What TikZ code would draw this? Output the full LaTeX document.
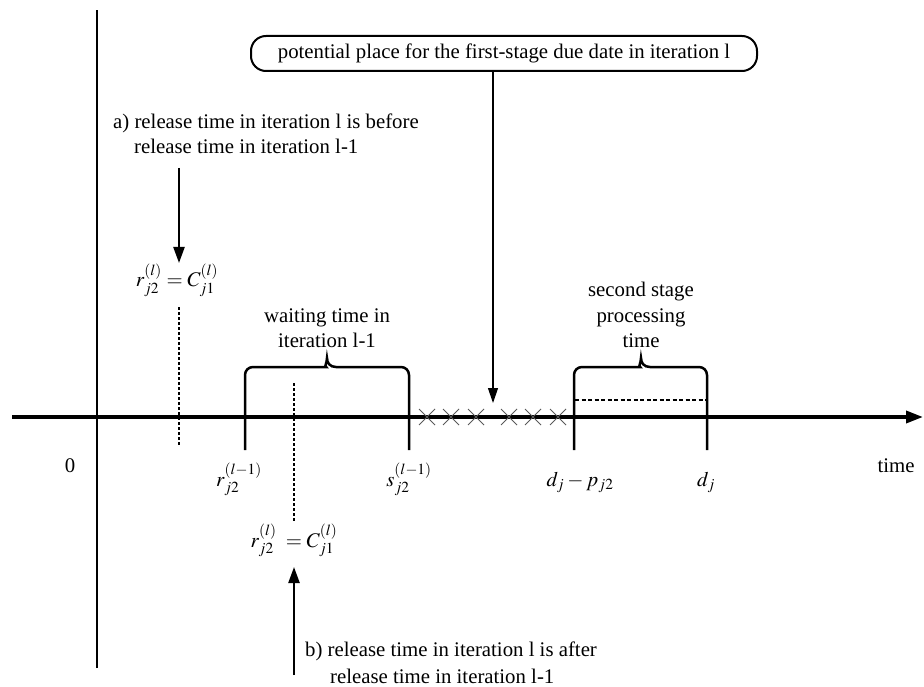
\documentclass[tikz,border=0pt]{standalone}
\usepackage{mathptmx}
\usepackage{fontspec}
\setmainfont{Liberation Serif}
\usetikzlibrary{arrows.meta}
\begin{document}
\begin{tikzpicture}[x=1pt,y=-1pt,
  every node/.style={font=\fontsize{20.8pt}{25pt}\selectfont, inner sep=0pt},
  axisline/.style={line width=3.5pt},
  brk/.style={line width=2.5pt},
  dotline/.style={line width=2.2pt, dash pattern=on 3pt off 2pt},
  crossline/.style={line width=0.9pt, black!65},
  thinarrow/.style={line width=1.2pt, -{Triangle[length=15pt,width=10pt]}},
  thickarrow/.style={line width=2.3pt, -{Triangle[length=16pt,width=11pt]}}]
\useasboundingbox (0,0) rectangle (924,687);

% axes
\coordinate (xs) at (12,417);
\coordinate (xe) at (923,417);
\draw[axisline,-{Triangle[length=17pt,width=12pt]}] (xs) -- (xe);
\coordinate (ys) at (97,668);
\coordinate (ye) at (97,10);
\draw[line width=2pt] (ys) -- (ye);

% top box and arrow
\node[draw, line width=2pt, rounded corners=15pt, minimum width=506pt, minimum height=35pt] (box) at (504,53.5) {potential place for the first-stage due date in iteration l};
\coordinate (tipT) at (493,403);
\draw[thinarrow] (box.south -| tipT) -- (tipT);

% case a
\node[anchor=base west] (a1) at (113,129) {a) release time in iteration l is before};
\node[anchor=base west] (a2) at (134,154) {release time in iteration l-1};
\coordinate (aS) at (179,168);
\coordinate (aT) at (179,263);
\draw[thickarrow] (aS) -- (aT);
\node[anchor=base] (eqa) at (177,287) {$r^{(l)}_{j2}=C^{(l)}_{j1}$};
\coordinate (da1) at (179,307);
\coordinate (da2) at (179,446);
\draw[dotline] (da1) -- (da2);

% waiting time brace
\node[anchor=base] (w1) at (327,322) {waiting time in};
\node[anchor=base] (w2) at (327,347) {iteration l-1};
\draw[brk] (245,450) [rounded corners=8pt] -- (245,367) -- (318,367) [sharp corners]
  .. controls (324,367) and (327,363) .. (327,358)
  .. controls (327,363) and (330,367) .. (336,367) [rounded corners=8pt] -- (409,367) -- (409,450);

% second stage brace
\node[anchor=base] (s1) at (641,297) {second stage};
\node[anchor=base] (s2) at (641,322) {processing};
\node[anchor=base] (s3) at (641,347) {time};
\draw[brk] (574,450) [rounded corners=8pt] -- (574,367) -- (632,367) [sharp corners]
  .. controls (638,367) and (641,363) .. (641,358)
  .. controls (641,363) and (644,367) .. (650,367) [rounded corners=8pt] -- (707,367) -- (707,450);
\draw[line width=2pt, dash pattern=on 4pt off 2.5pt] (575,400) -- (707,400);

% crosses
\foreach \cx in {427,451,476,509,533,558}{
  \draw[crossline] (\cx-8,409) -- (\cx+8,425) (\cx-8,425) -- (\cx+8,409);
}

% case b
\coordinate (db1) at (294,383);
\coordinate (db2) at (294,522);
\draw[dotline] (db1) -- (db2);
\node[anchor=base] (eqb) at (294,547) {$r^{(l)}_{j2}\;=C^{(l)}_{j1}$};
\coordinate (bS) at (294,675);
\coordinate (bT) at (294,567);
\draw[thickarrow] (bS) -- (bT);
\node[anchor=base west] (b1) at (305,656) {b) release time in iteration l is after};
\node[anchor=base west] (b2) at (330,683) {release time in iteration l-1};

% axis labels
\node[anchor=base] (zero) at (70,472) {0};
\node[anchor=base] (tm) at (896,472) {time};
\node[anchor=base] (rl) at (239,486) {$r^{(l-1)}_{j2}$};
\node[anchor=base] (sl) at (409,486) {$s^{(l-1)}_{j2}$};
\node[anchor=base] (dp) at (580,486) {$d_j-p_{j2}$};
\node[anchor=base] (dj) at (706,486) {$d_j$};
\end{tikzpicture}
\end{document}
